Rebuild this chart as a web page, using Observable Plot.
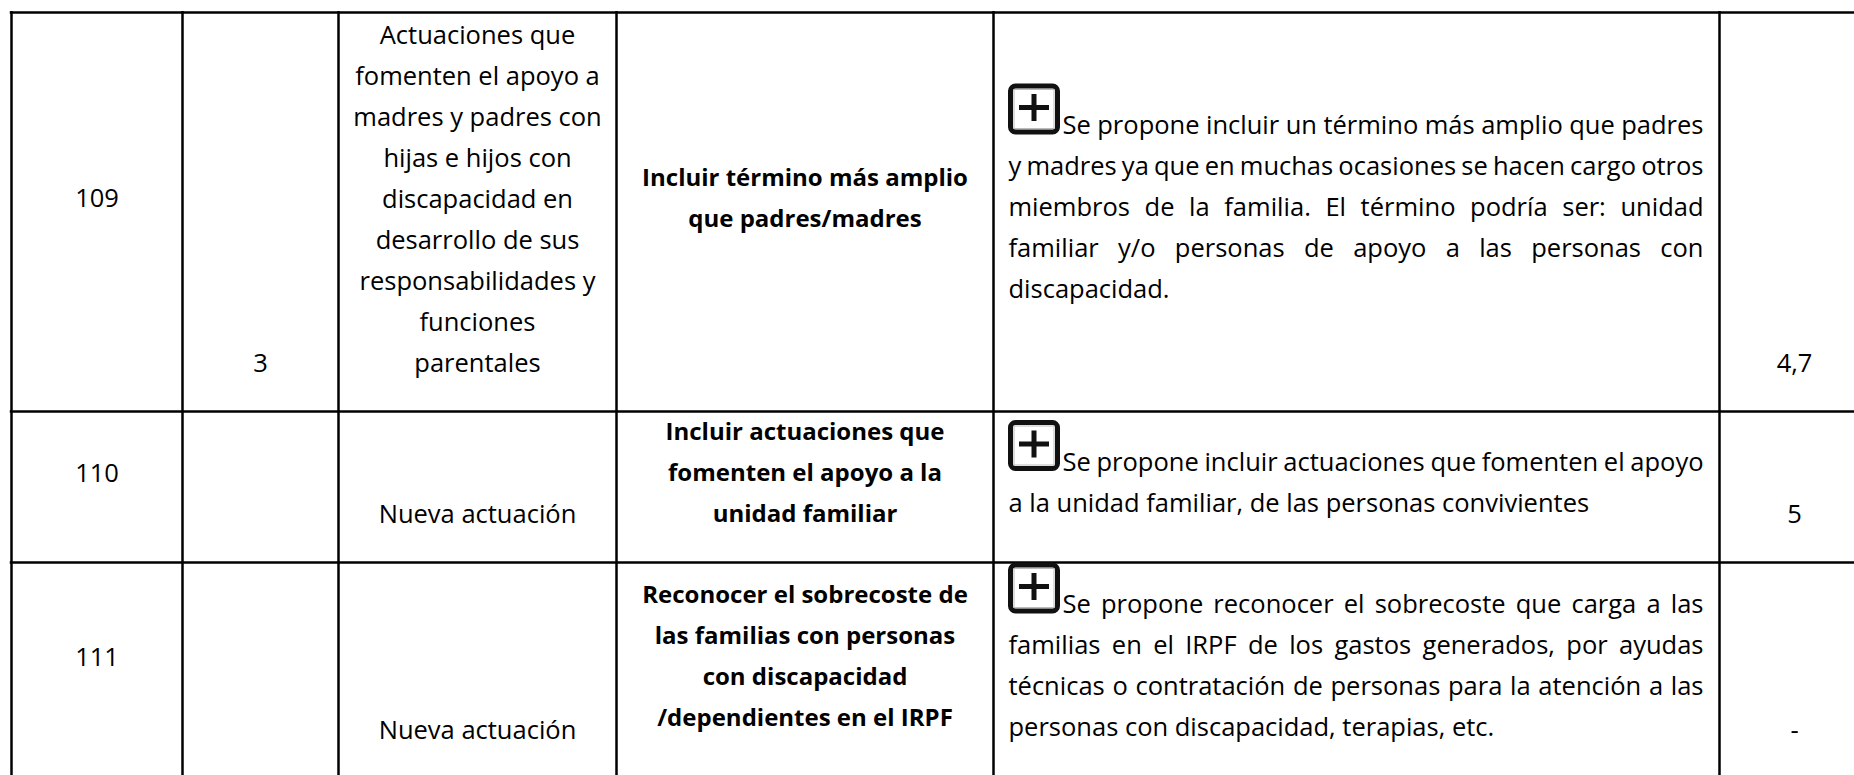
<!DOCTYPE html>
<html>
<head>
<meta charset="utf-8">
<script src="https://cdn.jsdelivr.net/npm/d3@7"></script>
<script src="https://cdn.jsdelivr.net/npm/@observablehq/plot@0.6"></script>
<style>
  html, body { margin: 0; padding: 0; background: #fff; overflow: hidden; }
  #chart svg { display: block; }
</style>
</head>
<body>
<div id="chart"></div>
<script>
// ---- table content ----
const ids = ["109", "110", "111"];
const lineas = ["3", "", ""];
const actuaciones = [
  ["Actuaciones que", "fomenten el apoyo a", "madres y padres con", "hijas e hijos con",
   "discapacidad en", "desarrollo de sus", "responsabilidades y", "funciones", "parentales"],
  ["Nueva actuación"],
  ["Nueva actuación"]
];
const propuestas = [
  ["Incluir término más amplio", "que padres/madres"],
  ["Incluir actuaciones que", "fomenten el apoyo a la", "unidad familiar"],
  ["Reconocer el sobrecoste de", "las familias con personas", "con discapacidad", "/dependientes en el IRPF"]
];
const descripciones = [
  ["Se propone incluir un término más amplio que padres",
   "y madres ya que en muchas ocasiones se hacen cargo otros",
   "miembros de la familia. El término podría ser: unidad",
   "familiar y/o personas de apoyo a las personas con",
   "discapacidad."],
  ["Se propone incluir actuaciones que fomenten el apoyo",
   "a la unidad familiar, de las personas convivientes"],
  ["Se propone reconocer el sobrecoste que carga a las",
   "familias en el IRPF de los gastos generados, por ayudas",
   "técnicas o contratación de personas para la atención a las",
   "personas con discapacidad, terapias, etc."]
];
const valores = ["4,7", "5", "-"];

// ---- layout (not data) ----
const W = 1854, H = 775;
const colEdges = [11, 182, 338, 616, 993, 1719, 1869];
const rowEdges = [12, 411, 562, 778];
const LH = 41;
const FONT = "Open Sans";
const FS = 25.5;
const FS_BOLD = 24;
const PAD = 15;
const TEXT_RIGHT = 1703;
const ICON_W = 52, ICON_H = 51;

// text measurement for justified lines
const ctx = document.createElement("canvas").getContext("2d");
ctx.font = `${FS}px "${FONT}"`;
const measure = s => ctx.measureText(s).width;

const centered = [];   // regular, centred in the cell
const bolds = [];      // bold, centred
const starts = [];     // regular, start-anchored (description lines / words)
const icons = [];
const cx = c => (colEdges[c] + colEdges[c + 1]) / 2;

ids.forEach((id, r) => {
  const top = rowEdges[r], bot = rowEdges[r + 1];
  const mid = (top + bot) / 2 - 14;
  centered.push({text: id, x: cx(0), y: mid + 9});
  if (lineas[r]) centered.push({text: lineas[r], x: cx(1), y: bot - 40});
  const a = actuaciones[r];
  a.forEach((t, i) => centered.push({text: t, x: cx(2), y: bot - 40 - (a.length - 1 - i) * LH}));
  const p = propuestas[r];
  p.forEach((t, i) => bolds.push({text: t, x: cx(3), y: mid + 8 + (i - (p.length - 1) / 2) * LH}));
  const d = descripciones[r];
  const left = colEdges[4] + PAD;
  d.forEach((t, i) => {
    const x0 = i === 0 ? left + ICON_W + 2 : left;
    const y = mid + 18 + (i - (d.length - 1) / 2) * LH;
    if (i < d.length - 1) {
      // justified line: distribute the free space over the word gaps
      const words = t.split(" ");
      const widths = words.map(measure);
      const gap = (TEXT_RIGHT - x0 - d3.sum(widths)) / (words.length - 1);
      let x = x0;
      words.forEach((w, k) => { starts.push({text: w, x, y}); x += widths[k] + gap; });
    } else {
      starts.push({text: t, x: x0, y});
    }
  });
  const base0 = mid + 18 - ((d.length - 1) / 2) * LH;
  icons.push({x1: left, x2: left + ICON_W, y1: base0 + 1 - ICON_H, y2: base0 + 1});
  centered.push({text: valores[r], x: cx(5), y: bot - 40});
});

const vEdges = colEdges.filter(v => v <= W);
const hEdges = rowEdges.filter(v => v <= H);

const textOpts = (extra) => ({
  x: "x", y: "y", text: "text", fontFamily: FONT, fontSize: FS, fill: "black",
  lineAnchor: "bottom", ...extra
});

const svg = Plot.plot({
  width: W, height: H,
  margin: 0,
  x: {type: "linear", domain: [0, W], range: [0, W], axis: null},
  y: {type: "linear", domain: [0, H], range: [0, H], axis: null},
  style: {background: "white"},
  marks: [
    Plot.ruleX(vEdges, {x: d => d, y1: rowEdges[0] - 1, y2: H, stroke: "black", strokeWidth: 2.5}),
    Plot.ruleY(hEdges, {y: d => d, x1: colEdges[0] - 1.25, x2: W, stroke: "black", strokeWidth: 2.5}),
    // icons: rounded box with a plus
    Plot.rect(icons, {x1: d => d.x1 + 2.5, x2: d => d.x2 - 2.5, y1: d => d.y1 + 2.5, y2: d => d.y2 - 2.5,
      rx: 5, fill: "white", stroke: "#111", strokeWidth: 5}),
    Plot.rect(icons, {x1: d => d.x1 + 6, x2: d => d.x2 - 6, y1: d => d.y1 + 6, y2: d => d.y2 - 6,
      fill: "none", stroke: "#bbb", strokeWidth: 1}),
    Plot.rect(icons, {x1: d => (d.x1 + d.x2) / 2 - 15, x2: d => (d.x1 + d.x2) / 2 + 15,
      y1: d => (d.y1 + d.y2) / 2 - 4, y2: d => (d.y1 + d.y2) / 2 + 1, fill: "#111"}),
    Plot.rect(icons, {x1: d => (d.x1 + d.x2) / 2 - 2.5, x2: d => (d.x1 + d.x2) / 2 + 2.5,
      y1: d => (d.y1 + d.y2) / 2 - 15, y2: d => (d.y1 + d.y2) / 2 + 12, fill: "#111"}),
    Plot.text(centered, textOpts({textAnchor: "middle"})),
    Plot.text(bolds, textOpts({textAnchor: "middle", fontWeight: "bold", fontSize: FS_BOLD})),
    Plot.text(starts, textOpts({textAnchor: "start"}))
  ]
});
document.getElementById("chart").append(svg);
</script>
</body>
</html>
